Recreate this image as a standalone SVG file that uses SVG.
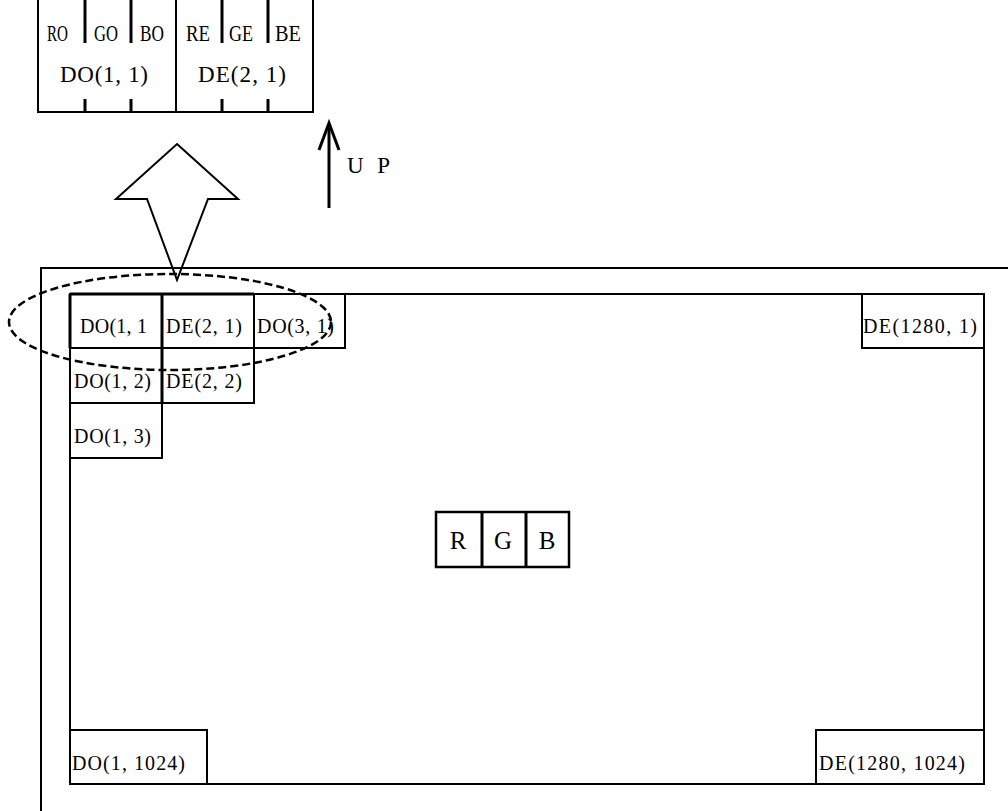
<svg xmlns="http://www.w3.org/2000/svg" width="1008" height="811" viewBox="0 0 1008 811">
<style>
.ln{fill:none;stroke:#000;stroke-width:2}
.th{fill:none;stroke:#000;stroke-width:3}
.cell{fill:#fff;stroke:#000;stroke-width:2}
.t{font-family:"Liberation Serif","Noto Sans CJK SC",serif;font-size:20px;fill:#000}
.tb{font-family:"Liberation Serif","Noto Sans CJK SC",serif;font-size:23px;fill:#000}
.tr{font-family:"Liberation Serif","Noto Sans CJK SC",serif;font-size:25px;fill:#000;text-anchor:middle}
</style>
<rect width="1008" height="811" fill="#fff"/>

<g id="pixel-word">
  <path class="ln" d="M38,0 V112 H313 V0 M176,0 V112"/>
  <path class="th" d="M85,0 V43 M131,0 V43 M222,0 V43 M268,0 V43 M85,99 V112 M131,99 V112 M222,99 V112 M268,99 V112"/>
  <text class="tb" x="47" y="41" textLength="21" lengthAdjust="spacingAndGlyphs">RO</text>
  <text class="tb" x="94" y="41" textLength="24" lengthAdjust="spacingAndGlyphs">GO</text>
  <text class="tb" x="140" y="41" textLength="24" lengthAdjust="spacingAndGlyphs">BO</text>
  <text class="tb" x="186" y="41" textLength="24" lengthAdjust="spacingAndGlyphs">RE</text>
  <text class="tb" x="229" y="41" textLength="24" lengthAdjust="spacingAndGlyphs">GE</text>
  <text class="tb" x="275" y="41" textLength="26" lengthAdjust="spacingAndGlyphs">BE</text>
  <text class="tb" x="60" y="82" textLength="88" lengthAdjust="spacing">DO(1, 1)</text>
  <text class="tb" x="198" y="82" textLength="88" lengthAdjust="spacing">DE(2, 1)</text>
</g>

<g id="connectors">
  <path d="M177,144 L238,199 L208,199 L177,280 L147,199 L116,199 Z" fill="#fff" stroke="#000" stroke-width="2" stroke-linejoin="miter"/>
  <path class="th" d="M329,208 V124"/>
  <path d="M319,150 L329,123 L339,150" fill="none" stroke="#000" stroke-width="3"/>
  <text class="tb" x="347" y="173" textLength="43" lengthAdjust="spacing">U P</text>
</g>

<g id="panel">
  <path class="ln" d="M41,811 V268 H1008"/>
  <rect x="70" y="294" width="914" height="490" fill="none" stroke="#000" stroke-width="2"/>
</g>

<g id="cells">
  <rect class="cell" x="70" y="294" width="92" height="54"/>
  <rect class="cell" x="162" y="294" width="92" height="54"/>
  <rect class="cell" x="254" y="294" width="91" height="54"/>
  <rect class="cell" x="70" y="348" width="92" height="55"/>
  <rect class="cell" x="162" y="348" width="92" height="55"/>
  <rect class="cell" x="70" y="403" width="92" height="55"/>
  <path class="th" d="M70,294 H254 M70,294 V348 M162,294 V403"/>
  <text class="t" x="80" y="333" textLength="67" lengthAdjust="spacing">DO(1, 1</text>
  <text class="t" x="166" y="333" textLength="76" lengthAdjust="spacing">DE(2, 1)</text>
  <text class="t" x="257" y="333" textLength="77" lengthAdjust="spacing">DO(3, 1)</text>
  <text class="t" x="74" y="388" textLength="77" lengthAdjust="spacing">DO(1, 2)</text>
  <text class="t" x="166" y="388" textLength="76" lengthAdjust="spacing">DE(2, 2)</text>
  <text class="t" x="74" y="443" textLength="77" lengthAdjust="spacing">DO(1, 3)</text>
</g>

<g id="corner-tr">
  <rect class="cell" x="862" y="294" width="122" height="54"/>
  <text class="t" x="863" y="333" textLength="114" lengthAdjust="spacing">DE(1280, 1)</text>
</g>
<g id="corner-bl">
  <rect class="cell" x="70" y="730" width="137" height="54"/>
  <text class="t" x="72" y="770" textLength="113" lengthAdjust="spacing">DO(1, 1024)</text>
</g>
<g id="corner-br">
  <rect class="cell" x="816" y="730" width="168" height="54"/>
  <text class="t" x="819" y="770" textLength="146" lengthAdjust="spacing">DE(1280, 1024)</text>
</g>

<g id="rgb">
  <rect x="436" y="512" width="133" height="55" fill="#fff" stroke="#000" stroke-width="2.5"/>
  <path class="th" d="M482,512 V567 M526,512 V567"/>
  <text class="tr" x="458" y="549">R</text>
  <text class="tr" x="503" y="549">G</text>
  <text class="tr" x="547" y="549">B</text>
</g>

<g id="selection">
  <ellipse cx="170" cy="322" rx="161" ry="48" fill="none" stroke="#000" stroke-width="2.5" stroke-dasharray="8,4"/>
</g>
</svg>
